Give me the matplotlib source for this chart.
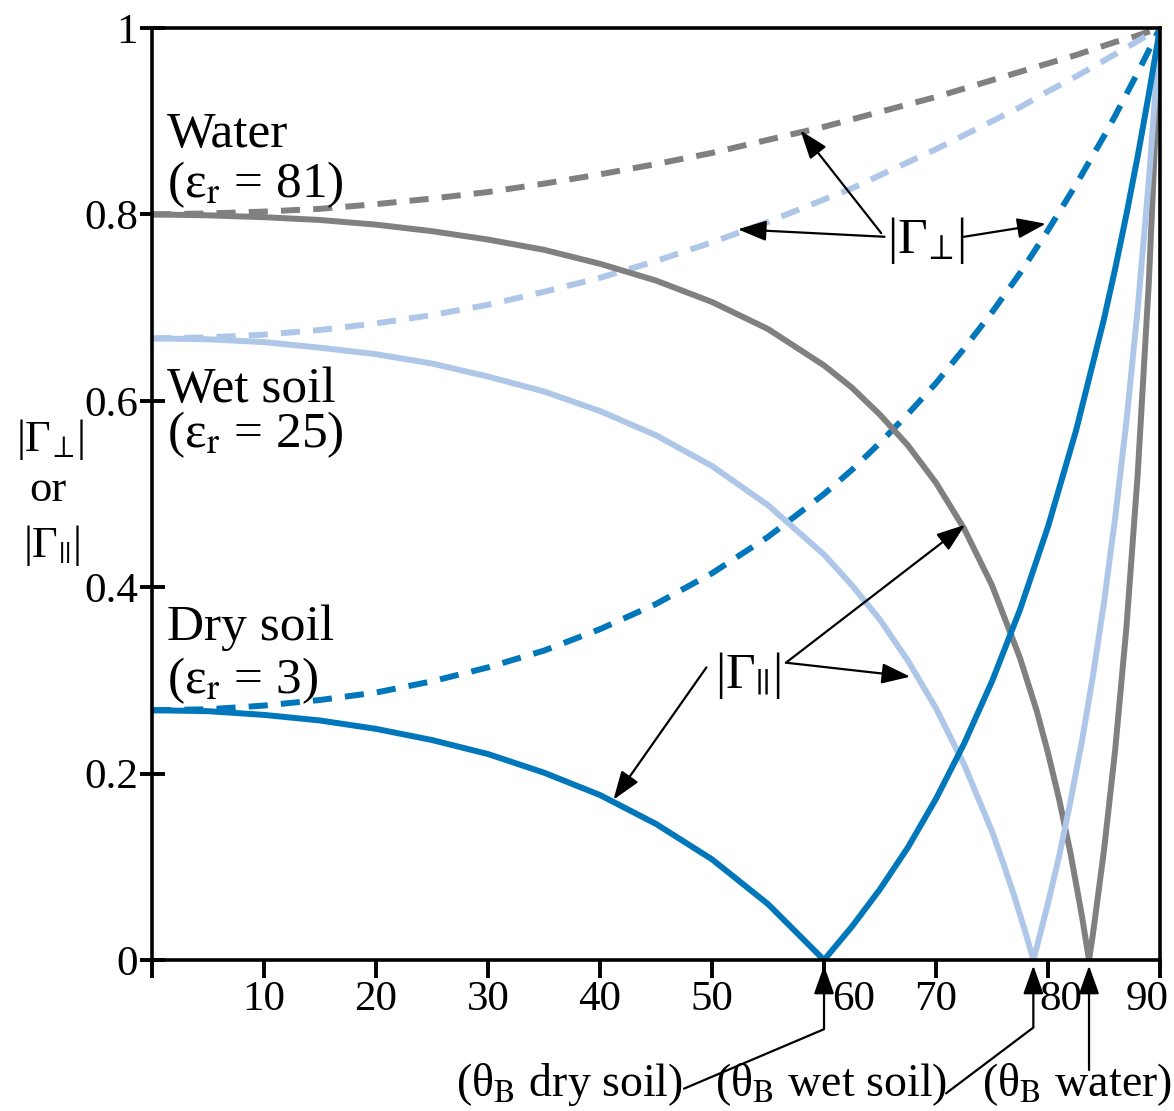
import matplotlib.pyplot as plt

plt.rcParams["font.family"] = ["Liberation Serif", "DejaVu Serif"]
plt.rcParams["mathtext.fontset"] = "stix"

GRIS, BLEU_CLAIR, BLEU = "#808080", "#aec7e8", "#0077bb"

# angle of incidence (deg) and |reflection coefficient|
angles = [0, 5, 10, 15, 20, 25, 30, 35, 40, 45, 50, 55, 60, 62.5, 65, 67.5, 70,
          72.5, 75, 77.5, 80, 82.5, 85, 86, 87, 88, 89, 90]
dry_perp = [0.268, 0.269, 0.273, 0.279, 0.287, 0.299, 0.314, 0.332, 0.355, 0.382,
            0.415, 0.454, 0.500, 0.526, 0.555, 0.586, 0.619, 0.656, 0.695, 0.737,
            0.783, 0.832, 0.884, 0.906, 0.929, 0.952, 0.976, 1.0]
wet_perp = [0.667, 0.668, 0.671, 0.676, 0.683, 0.692, 0.703, 0.717, 0.732, 0.750,
            0.770, 0.792, 0.816, 0.828, 0.842, 0.856, 0.870, 0.885, 0.900, 0.915,
            0.932, 0.948, 0.965, 0.972, 0.979, 0.986, 0.993, 1.0]
water_perp = [0.800, 0.801, 0.803, 0.806, 0.811, 0.817, 0.824, 0.833, 0.843, 0.854,
              0.866, 0.880, 0.894, 0.902, 0.910, 0.918, 0.926, 0.935, 0.944, 0.953,
              0.962, 0.971, 0.981, 0.985, 0.988, 0.992, 0.996, 1.0]
dry_par = [0.268, 0.267, 0.263, 0.257, 0.248, 0.236, 0.221, 0.201, 0.177, 0.146,
           0.108, 0.060, 0.0, 0.036, 0.076, 0.121, 0.173, 0.232, 0.299, 0.376,
           0.465, 0.568, 0.688, 0.742, 0.800, 0.862, 0.929, 1.0]

wet_par_angles = [0, 5, 10, 15, 20, 25, 30, 35, 40, 45, 50, 55, 60, 62.5, 65, 67.5,
                  70, 72.5, 75, 76, 77, 78, 78.69, 79, 80, 81, 82, 83, 84, 85, 86,
                  87, 88, 89, 90]
wet_par = [0.667, 0.666, 0.663, 0.657, 0.650, 0.640, 0.626, 0.610, 0.589, 0.563,
           0.530, 0.488, 0.435, 0.402, 0.365, 0.321, 0.270, 0.210, 0.138, 0.104,
           0.068, 0.029, 0.0, 0.014, 0.061, 0.112, 0.170, 0.233, 0.304, 0.384,
           0.475, 0.578, 0.698, 0.836, 1.0]

water_par_angles = [0, 5, 10, 15, 20, 25, 30, 35, 40, 45, 50, 55, 60, 62.5, 65,
                    67.5, 70, 72.5, 75, 77.5, 79, 80, 81, 82, 83, 83.66, 84, 85,
                    86, 87, 88, 89, 90]
water_par = [0.800, 0.799, 0.797, 0.794, 0.789, 0.782, 0.773, 0.762, 0.747, 0.729,
             0.706, 0.677, 0.638, 0.614, 0.585, 0.552, 0.512, 0.463, 0.402, 0.324,
             0.267, 0.222, 0.172, 0.115, 0.049, 0.0, 0.027, 0.118, 0.226, 0.357,
             0.520, 0.727, 1.0]

brewster = {"dry soil": 60.0, "wet soil": 78.69, "water": 83.66}
xticks = [0, 10, 20, 30, 40, 50, 60, 70, 80, 90]
yticks = [0, 0.2, 0.4, 0.6, 0.8, 1.0]
ylabels = ["0", "0.2", "0.4", "0.6", "0.8", "1"]

fig = plt.figure(figsize=(11.74, 11.11), dpi=100)
ax = fig.add_axes([0.1295, 0.1359, 0.8586, 0.8389])

LW = 4.3
DASH = (3.2, 2.2)
ax.plot(angles, water_perp, color=GRIS, lw=LW, dashes=DASH)
ax.plot(angles, wet_perp, color=BLEU_CLAIR, lw=LW, dashes=DASH)
ax.plot(angles, dry_perp, color=BLEU, lw=LW, dashes=DASH)
ax.plot(water_par_angles, water_par, color=GRIS, lw=LW)
ax.plot(wet_par_angles, wet_par, color=BLEU_CLAIR, lw=LW)
ax.plot(angles, dry_par, color=BLEU, lw=LW)

ax.set_xlim(0, 90)
ax.set_ylim(0, 1)
for s in ax.spines.values():
    s.set_linewidth(2.6)
ax.set_xticks(xticks)
ax.set_xticklabels([])
ax.set_yticks(yticks, ylabels)
ax.tick_params(axis="y", direction="inout", length=18, width=2.8, labelsize=31, pad=1)
ax.tick_params(axis="x", direction="out", length=13, width=2.8)

# x tick labels, a few nudged sideways as in the original
nudge = {60: 30, 80: 13, 90: -13}
for v in xticks[1:]:
    ax.annotate(str(v), xy=(v, 0), xycoords=("data", "axes fraction"),
                xytext=(nudge.get(v, 0), -40), textcoords="offset pixels",
                ha="center", va="center", fontsize=31)

# material labels
FS = 37
ax.text(1.3, 0.872, "Water", fontsize=FS, va="baseline")
ax.text(1.3, 0.819, "(ε$_\\mathrm{r}$ = 81)", fontsize=FS, va="baseline")
ax.text(1.3, 0.599, "Wet soil", fontsize=FS, va="baseline")
ax.text(1.3, 0.550, "(ε$_\\mathrm{r}$ = 25)", fontsize=FS, va="baseline")
ax.text(1.3, 0.343, "Dry soil", fontsize=FS, va="baseline")
ax.text(1.3, 0.286, "(ε$_\\mathrm{r}$ = 3)", fontsize=FS, va="baseline")

PERP = "|Γ$_{\\!\\perp\\!}$|"
PAR = "|Γ$_{||}$|"

# y label
fig.text(0.043, 0.604, PERP, fontsize=32, ha="center", va="center")
fig.text(0.041, 0.559, "or", fontsize=32, ha="center", va="center")
fig.text(0.044, 0.509, PAR, fontsize=32, ha="center", va="center")

ARR = dict(arrowstyle="-|>,head_length=0.7,head_width=0.25", mutation_scale=25,
           lw=1.6, color="black", shrinkA=0, shrinkB=0)

# |Γ⊥| label and arrows
ax.text(69.1, 0.772, PERP, fontsize=FS, ha="center", va="center")
for start, tip in [((65.1, 0.780), (57.9, 0.890)),
                   ((65.4, 0.776), (52.3, 0.784)),
                   ((72.5, 0.776), (79.8, 0.790))]:
    ax.annotate("", xy=tip, xytext=start, arrowprops=ARR)

# |Γ||| label and arrows
ax.text(53.2, 0.305, PAR, fontsize=FS, ha="center", va="center")
for start, tip in [((49.5, 0.314), (41.2, 0.172)),
                   ((56.6, 0.319), (72.6, 0.467)),
                   ((56.6, 0.319), (67.7, 0.304))]:
    ax.annotate("", xy=tip, xytext=start, arrowprops=ARR)

# Brewster angles
FSB = 33
ax.text(37.3, -0.134, "(θ$_\\mathrm{B}$ dry soil)", fontsize=FSB, ha="center", va="center")
ax.text(60.6, -0.134, "(θ$_\\mathrm{B}$ wet soil)", fontsize=FSB, ha="center", va="center")
ax.text(82.6, -0.134, "(θ$_\\mathrm{B}$ water)", fontsize=FSB, ha="center", va="center")
for key, start, ang in [("dry soil", (47.5, -0.138), 23),
                        ("wet soil", (70.9, -0.143), 37)]:
    ax.annotate("", xy=(brewster[key], -0.006), xytext=start, annotation_clip=False,
                arrowprops=dict(ARR, connectionstyle=f"angle,angleA={ang},angleB=90,rad=0"))
ax.annotate("", xy=(brewster["water"], -0.006), xytext=(brewster["water"], -0.118),
            annotation_clip=False, arrowprops=ARR)

fig.savefig("out.png", dpi=100)
